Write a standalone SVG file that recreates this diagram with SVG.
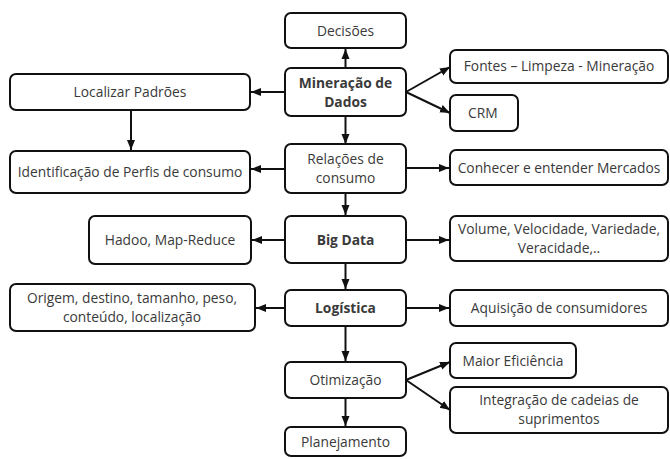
<svg xmlns="http://www.w3.org/2000/svg" width="670" height="459" viewBox="0 0 670 459">
<defs>
<marker id="ah" viewBox="0 0 10 10" refX="10" refY="5" markerWidth="5" markerHeight="5" orient="auto" markerUnits="strokeWidth">
<path d="M0,1 L10,5 L0,9 z" fill="#111"/>
</marker>
<style>
.box{fill:#fff;stroke:#111;stroke-width:2}
.t{font-family:"Open Sans","Liberation Sans",sans-serif;font-size:13.8px;fill:#3a3a3a;text-anchor:middle}
.b{font-weight:bold}
.c{fill:none;stroke:#111;stroke-width:2;marker-end:url(#ah)}
</style>
</defs>
<rect width="670" height="459" fill="#fff"/>
<g id="connectors">
<line class="c" x1="345.5" y1="68" x2="345.5" y2="49"/>
<line class="c" x1="285" y1="92" x2="251" y2="92"/>
<path class="c" d="M406,92 L450,67"/>
<path class="c" d="M406,92 L450,113"/>
<line class="c" x1="345.5" y1="116" x2="345.5" y2="144"/>
<line class="c" x1="131" y1="110" x2="131" y2="150"/>
<line class="c" x1="285" y1="169" x2="251" y2="169"/>
<line class="c" x1="406" y1="168" x2="449" y2="168"/>
<line class="c" x1="345.5" y1="193" x2="345.5" y2="215"/>
<line class="c" x1="285" y1="240" x2="252" y2="240"/>
<line class="c" x1="406" y1="240" x2="449" y2="240"/>
<line class="c" x1="345.5" y1="263" x2="345.5" y2="289"/>
<line class="c" x1="285" y1="308" x2="256" y2="308"/>
<line class="c" x1="406" y1="308" x2="449" y2="308"/>
<line class="c" x1="345.5" y1="326" x2="345.5" y2="361"/>
<path class="c" d="M406,380 L450,362"/>
<path class="c" d="M406,380 L450,410"/>
<line class="c" x1="345.5" y1="398" x2="345.5" y2="426"/>
</g>
<g id="decisoes"><rect class="box" x="285" y="13" width="121" height="35" rx="6"/><text class="t" x="345.5" y="35.5">Decisões</text></g>
<g id="mineracao"><rect class="box" x="285" y="68" width="121" height="48" rx="6"/><text class="t b" x="345.5" y="88">Mineração de</text><text class="t b" x="345.5" y="107">Dados</text></g>
<g id="relacoes"><rect class="box" x="285" y="144" width="121" height="49" rx="6"/><text class="t" x="345.5" y="164">Relações de</text><text class="t" x="345.5" y="183">consumo</text></g>
<g id="bigdata"><rect class="box" x="285" y="216" width="121" height="47" rx="6"/><text class="t b" x="345.5" y="244.5">Big Data</text></g>
<g id="logistica"><rect class="box" x="285" y="290" width="121" height="36" rx="6"/><text class="t b" x="345.5" y="313">Logística</text></g>
<g id="otimizacao"><rect class="box" x="285" y="362" width="121" height="36" rx="6"/><text class="t" x="345.5" y="385">Otimização</text></g>
<g id="planejamento"><rect class="box" x="285" y="427" width="121" height="29" rx="6"/><text class="t" x="345.5" y="447">Planejamento</text></g>
<g id="localizar"><rect class="box" x="10" y="74" width="240" height="36" rx="6"/><text class="t" x="130" y="97">Localizar Padrões</text></g>
<g id="identificacao"><rect class="box" x="10" y="151" width="240" height="42" rx="6"/><text class="t" x="130" y="177">Identificação de Perfis de consumo</text></g>
<g id="hadoo"><rect class="box" x="89" y="216" width="162" height="48" rx="6"/><text class="t" x="170" y="245">Hadoo, Map-Reduce</text></g>
<g id="origem"><rect class="box" x="10" y="284" width="245" height="47" rx="6"/><text class="t" x="132" y="303">Origem, destino, tamanho, peso,</text><text class="t" x="132" y="322">conteúdo, localização</text></g>
<g id="fontes"><rect class="box" x="450" y="50" width="218" height="33" rx="6"/><text class="t" x="559" y="71">Fontes – Limpeza - Mineração</text></g>
<g id="crm"><rect class="box" x="450" y="95" width="68" height="36" rx="6"/><text class="t" x="468" y="118" style="text-anchor:start">CRM</text></g>
<g id="conhecer"><rect class="box" x="450" y="150" width="218" height="35" rx="6"/><text class="t" x="559" y="172.5">Conhecer e entender Mercados</text></g>
<g id="volume"><rect class="box" x="450" y="216" width="218" height="45" rx="6"/><text class="t" x="559" y="234">Volume, Velocidade, Variedade,</text><text class="t" x="559" y="253">Veracidade,..</text></g>
<g id="aquisicao"><rect class="box" x="450" y="290" width="218" height="36" rx="6"/><text class="t" x="559" y="313">Aquisição de consumidores</text></g>
<g id="maior"><rect class="box" x="450" y="343" width="126" height="35" rx="6"/><text class="t" x="513" y="365.5">Maior Eficiência</text></g>
<g id="integracao"><rect class="box" x="450" y="387" width="218" height="46" rx="6"/><text class="t" x="559" y="405">Integração de cadeias de</text><text class="t" x="559" y="424">suprimentos</text></g>
</svg>
